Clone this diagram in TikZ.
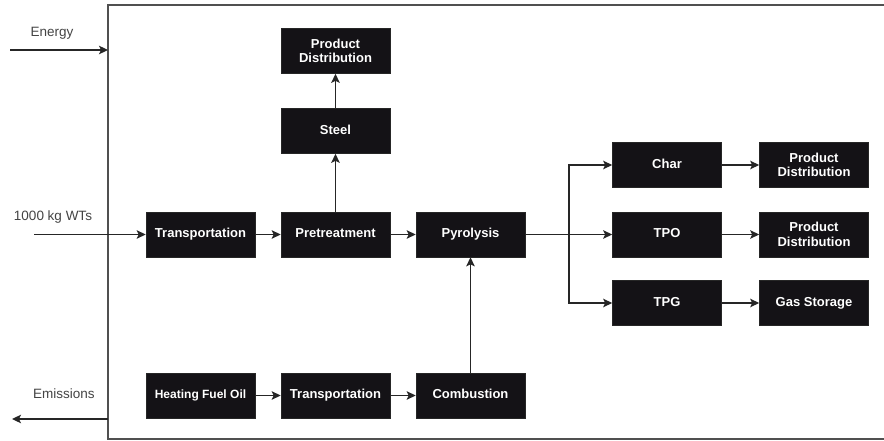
\documentclass[tikz,border=0pt]{standalone}
\usepackage{fontspec}
\setmainfont{Liberation Sans}
\usetikzlibrary{arrows.meta}
\definecolor{boxfill}{HTML}{141216}
\definecolor{linegray}{HTML}{262626}
\definecolor{framegray}{HTML}{505050}
\definecolor{labelgray}{HTML}{444444}
\tikzset{
  procbox/.style={draw=linegray, line width=0.6pt, fill=boxfill, text=white,
    minimum width=109pt, minimum height=45pt, inner sep=0pt, align=center,
    font=\bfseries\fontsize{13}{14.5}\selectfont},
  oneline/.style={text height=9.5pt, text depth=2.7pt},
  flow/.style={draw=linegray, line width=1.4pt,
    -{Stealth[length=9pt,width=8.5pt,inset=2pt]}},
  sidelabel/.style={text=labelgray, font=\fontsize{13.5}{15}\selectfont, inner sep=0pt}
}
\begin{document}
\begin{tikzpicture}[x=1pt,y=-1pt]
\useasboundingbox (0,0) rectangle (884,441);
\fill[white] (0,0) rectangle (884,441);

% system boundary (open to the right)
\draw[framegray, line width=1.6pt] (895,5) -- (108,5) -- (108,439) -- (895,439);
\coordinate (fE) at (108,50);
\coordinate (fM) at (108,419);

% main process chain
\node[procbox, oneline] (trans1) at (200.5,234.5) {Transportation};
\node[procbox, oneline] (pre) at (335.5,234.5) {Pretreatment};
\node[procbox, oneline] (pyro) at (470.5,234.5) {Pyrolysis};
\node[procbox, oneline] (steel) at (335.5,131) {Steel};
\node[procbox] (pd0) at (335.5,51) {Product\\Distribution};

% fuel supply chain
\node[procbox, oneline, font=\bfseries\fontsize{12}{14}\selectfont] (hfo) at (200.5,395.5) {Heating Fuel Oil};
\node[procbox, oneline] (trans2) at (335.5,395.5) {Transportation};
\node[procbox, oneline] (comb) at (470.5,395.5) {Combustion};

% pyrolysis products
\node[procbox, oneline] (char) at (667,165) {Char};
\node[procbox, oneline] (tpo) at (667,234.5) {TPO};
\node[procbox, oneline] (tpg) at (667,303) {TPG};
\node[procbox] (pd1) at (814,165) {Product\\Distribution};
\node[procbox] (pd2) at (814,234.5) {Product\\Distribution};
\node[procbox, oneline] (gas) at (814,303) {Gas Storage};

% inputs and outputs
\coordinate (eIn) at (10,50);
\coordinate (wIn) at (34,234.5);
\coordinate (mOut) at (12,419);
\node[sidelabel] (lE) at (52,33) {Energy};
\node[sidelabel] (lW) at (53,217) {1000 kg WTs};
\node[sidelabel] (lM) at (64,394) {Emissions};

\draw[flow] (eIn) -- (fE);
\draw[flow] (wIn) -- (trans1);
\draw[flow] (fM) -- (mOut);

\draw[flow] (trans1) -- (pre);
\draw[flow] (pre) -- (pyro);
\draw[flow] (pre) -- (steel);
\draw[flow] (steel) -- (pd0);

\draw[flow] (hfo) -- (trans2);
\draw[flow] (trans2) -- (comb);
\draw[flow] (comb) -- (pyro);

\coordinate (split) at (569,234.5);
\draw[draw=linegray, line width=1.4pt] (pyro.east) -- (split);
\draw[flow] (split) |- (char.west);
\draw[flow] (split) -- (tpo.west);
\draw[flow] (split) |- (tpg.west);

\draw[flow] (char) -- (pd1);
\draw[flow] (tpo) -- (pd2);
\draw[flow] (tpg) -- (gas);
\end{tikzpicture}
\end{document}
